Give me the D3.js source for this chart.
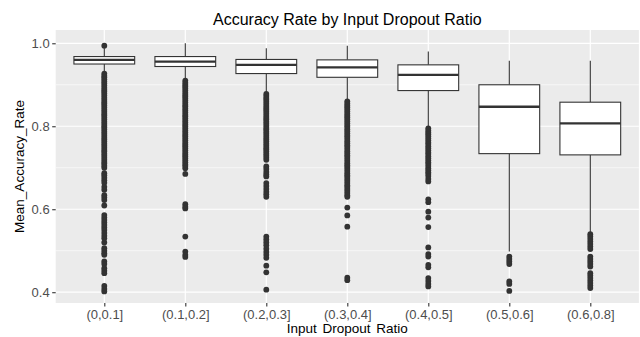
<!DOCTYPE html>
<html>
<head>
<meta charset="utf-8">
<script src="https://cdn.jsdelivr.net/npm/d3@7"></script>
<style>
  body { margin: 0; background: #fff; }
  svg { display: block; font-family: "Liberation Sans", Arial, sans-serif; }
</style>
</head>
<body>
<div id="chart"></div>
<script>
const categories = ["(0,0.1]", "(0.1,0.2]", "(0.2,0.3]", "(0.3,0.4]", "(0.4,0.5]", "(0.5,0.6]", "(0.6,0.8]"];

// box statistics
const lowerHinge = [0.950, 0.944, 0.927, 0.918, 0.886, 0.734, 0.731];
const medians    = [0.960, 0.956, 0.948, 0.942, 0.924, 0.847, 0.807];
const upperHinge = [0.968, 0.968, 0.961, 0.960, 0.948, 0.900, 0.858];
const whiskerLow = [0.929, 0.916, 0.883, 0.863, 0.800, 0.498, 0.544];
const whiskerHigh = [0.988, 1.000, 0.988, 0.994, 0.980, 0.958, 0.958];

// outlier points per category
const outliers = [
  [0.994,
   0.927,0.922,0.918,0.913,0.908,0.903,0.898,0.893,0.888,0.884,0.879,0.874,0.869,0.864,0.859,0.855,0.850,0.845,
   0.840,0.835,0.830,0.826,0.821,0.816,0.811,0.806,0.801,0.797,0.792,0.787,0.782,0.777,0.772,0.768,0.763,0.758,
   0.753,0.748,0.743,0.739,0.734,0.729,0.724,0.719,0.714,0.710,0.705,0.700,
   0.687,0.682,0.676,0.670,0.664,0.654,0.647,0.634,0.628,0.622,0.609,
   0.586,0.580,0.574,0.568,0.562,0.556,0.550,0.543,0.536,0.530,0.520,
   0.506,0.500,0.494,0.490,0.474,0.468,0.458,0.452,0.446,0.415,0.408,0.402],
  [0.910,0.905,0.900,0.896,0.891,0.886,0.881,0.876,0.872,0.867,0.862,0.857,0.852,0.848,0.843,0.838,0.833,0.828,
   0.824,0.819,0.814,0.809,0.804,0.800,0.795,0.790,0.785,0.780,0.776,0.771,0.766,0.761,0.756,0.752,0.747,0.742,
   0.737,0.732,0.728,0.723,0.718,0.713,0.708,0.704,0.699,0.685,
   0.612,0.606,0.602,0.534,0.498,0.490,0.485],
  [0.878,0.873,0.868,0.864,0.859,0.854,0.849,0.844,0.840,0.835,0.830,0.825,0.820,0.816,0.811,0.806,0.801,0.796,
   0.792,0.787,0.782,0.777,0.772,0.768,0.763,0.758,0.753,0.748,0.744,0.739,0.734,0.729,0.724,0.719,
   0.703,0.697,0.690,0.684,0.679,0.663,0.656,0.649,0.642,0.636,0.630,
   0.534,0.527,0.520,0.513,0.505,0.497,0.490,0.483,0.464,0.448,0.406],
  [0.860,0.855,0.850,0.846,0.841,0.836,0.831,0.826,0.822,0.817,0.812,0.807,0.802,0.798,0.793,0.788,0.783,0.778,
   0.774,0.769,0.764,0.759,0.754,0.750,0.745,0.740,0.735,0.730,0.726,0.721,0.716,0.711,0.706,0.702,0.697,0.692,
   0.687,0.682,0.678,0.673,0.668,0.663,0.658,0.654,0.649,0.644,0.639,0.634,0.630,
   0.604,0.585,0.558,0.435,0.429],
  [0.795,0.790,0.785,0.781,0.776,0.771,0.766,0.761,0.757,0.752,0.747,0.742,0.737,0.733,0.728,0.723,0.718,0.713,
   0.709,0.704,0.699,0.694,0.689,0.685,0.680,0.673,0.667,
   0.624,0.617,0.594,0.580,0.557,0.508,0.492,0.486,0.466,0.460,0.434,0.427,0.420,0.414],
  [0.486,0.480,0.474,0.468,0.426,0.420,0.403],
  [0.540,0.534,0.528,0.522,0.516,0.510,0.504,0.486,0.480,0.474,0.468,0.462,
   0.446,0.440,0.434,0.428,0.422,0.416,0.410]
];

const yMajor = [0.4, 0.6, 0.8, 1.0];
const yMinor = [0.5, 0.7, 0.9];

const dims = { width: 640, height: 337 };
const margin = { left: 55.7, right: 1.1, top: 30, bottom: 34 };
const panelW = dims.width - margin.left - margin.right;
const panelH = dims.height - margin.top - margin.bottom;

const x = d3.scalePoint()
  .domain(categories)
  .range([0, panelW])
  .padding(0.6);

const y = d3.scaleLinear()
  .domain([0.374, 1.032])
  .range([panelH, 0]);

const boxW = x.step() * 0.75;

const svg = d3.select("#chart").append("svg")
  .attr("width", dims.width)
  .attr("height", dims.height)
  .attr("viewBox", [0, 0, dims.width, dims.height]);

const g = svg.append("g")
  .attr("transform", `translate(${margin.left},${margin.top})`);

// panel background
g.append("rect")
  .attr("width", panelW)
  .attr("height", panelH)
  .attr("fill", "#EBEBEB");

// grid lines
g.selectAll("line.minor")
  .data(yMinor)
  .join("line")
  .attr("class", "minor")
  .attr("x1", 0).attr("x2", panelW)
  .attr("y1", d => y(d)).attr("y2", d => y(d))
  .attr("stroke", "#fff")
  .attr("stroke-width", 0.6);

g.selectAll("line.majorY")
  .data(yMajor)
  .join("line")
  .attr("class", "majorY")
  .attr("x1", 0).attr("x2", panelW)
  .attr("y1", d => y(d)).attr("y2", d => y(d))
  .attr("stroke", "#fff")
  .attr("stroke-width", 1.2);

g.selectAll("line.majorX")
  .data(categories)
  .join("line")
  .attr("class", "majorX")
  .attr("x1", d => x(d)).attr("x2", d => x(d))
  .attr("y1", 0).attr("y2", panelH)
  .attr("stroke", "#fff")
  .attr("stroke-width", 1.2);

// boxes
const boxes = categories.map((c, i) => ({
  cat: c, lo: lowerHinge[i], med: medians[i], hi: upperHinge[i],
  wLo: whiskerLow[i], wHi: whiskerHigh[i], out: outliers[i]
}));

const bg = g.selectAll("g.box")
  .data(boxes)
  .join("g")
  .attr("class", "box")
  .attr("transform", d => `translate(${x(d.cat)},0)`);

bg.append("line")
  .attr("x1", 0).attr("x2", 0)
  .attr("y1", d => y(d.hi)).attr("y2", d => y(d.wHi))
  .attr("stroke", "#333").attr("stroke-width", 1.1);

bg.append("line")
  .attr("x1", 0).attr("x2", 0)
  .attr("y1", d => y(d.lo)).attr("y2", d => y(d.wLo))
  .attr("stroke", "#333").attr("stroke-width", 1.1);

bg.append("rect")
  .attr("x", -boxW / 2)
  .attr("width", boxW)
  .attr("y", d => y(d.hi))
  .attr("height", d => y(d.lo) - y(d.hi))
  .attr("fill", "#fff")
  .attr("stroke", "#333")
  .attr("stroke-width", 1.1);

bg.append("line")
  .attr("x1", -boxW / 2).attr("x2", boxW / 2)
  .attr("y1", d => y(d.med)).attr("y2", d => y(d.med))
  .attr("stroke", "#333").attr("stroke-width", 2.3);

bg.selectAll("circle")
  .data(d => d.out)
  .join("circle")
  .attr("cx", 0)
  .attr("cy", d => y(d))
  .attr("r", 2.9)
  .attr("fill", "#333");

// axes
const yAxis = g.append("g")
  .call(d3.axisLeft(y).tickValues(yMajor).tickFormat(d3.format(".1f")).tickSize(3.5).tickPadding(2.5));
yAxis.select(".domain").remove();
yAxis.selectAll(".tick line").attr("stroke", "#333").attr("stroke-width", 1.1);
yAxis.selectAll(".tick text").attr("fill", "#4D4D4D").attr("font-size", 13).attr("font-family", null);

const xAxis = g.append("g")
  .attr("transform", `translate(0,${panelH})`)
  .call(d3.axisBottom(x).tickSize(3.5).tickPadding(3));
xAxis.select(".domain").remove();
xAxis.selectAll(".tick line").attr("stroke", "#333").attr("stroke-width", 1.1);
xAxis.selectAll(".tick text").attr("fill", "#4D4D4D").attr("font-size", 13).attr("font-family", null);

// titles
svg.append("text")
  .attr("x", margin.left + panelW / 2)
  .attr("y", 25)
  .attr("text-anchor", "middle")
  .attr("font-size", 16)
  .attr("fill", "#000")
  .text("Accuracy Rate by Input Dropout Ratio");

svg.append("text")
  .attr("x", margin.left + panelW / 2)
  .attr("y", 333)
  .attr("text-anchor", "middle")
  .attr("font-size", 13.5)
  .attr("fill", "#000")
  .attr("word-spacing", 2)
  .text("Input Dropout Ratio");

svg.append("text")
  .attr("transform", `translate(23.5,${margin.top + panelH / 2}) rotate(-90)`)
  .attr("text-anchor", "middle")
  .attr("font-size", 13.5)
  .attr("fill", "#000")
  .text("Mean_Accuracy_Rate");
</script>
</body>
</html>
